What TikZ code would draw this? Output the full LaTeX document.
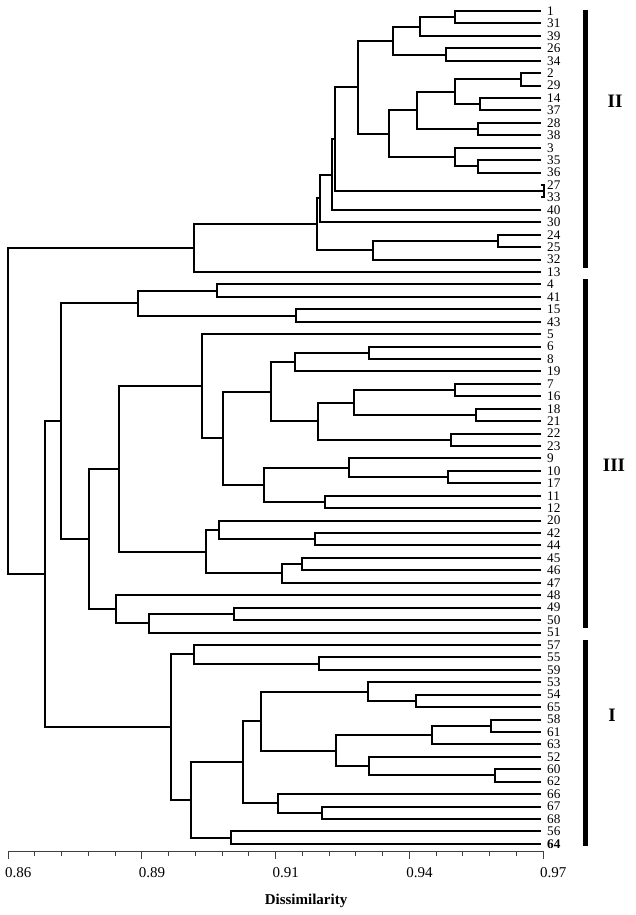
\documentclass[tikz,border=0pt]{standalone}
\usepackage{fontspec}
\setmainfont{Liberation Serif}
\usetikzlibrary{calc}
\tikzset{
  br/.style={line width=2pt, line join=miter},
  leaflab/.style={anchor=west, inner sep=0pt, xshift=6.5pt, font=\fontsize{13.2}{14}\selectfont},
  grp/.style={font=\bfseries\fontsize{19}{20}\selectfont, inner sep=0pt},
  ax/.style={line width=1pt, black!75},
  axlab/.style={anchor=west, inner sep=0pt, font=\fontsize{15}{16}\selectfont},
  bar/.style={fill=black}
}
\newcommand\mrg[4]{%
  \path let \p1=(#3), \p2=(#4) in coordinate (#1) at (#2pt,{0.5*(\y1+\y2)});
  \draw[br] (#3) -| (#1) |- (#4);}
\begin{document}
\begin{tikzpicture}[x=1pt,y=-1pt]
\useasboundingbox (0,0) rectangle (636,915);
% leaves
\foreach \lab [count=\i from 0] in {1,31,39,26,34,2,29,14,37,28,38,3,35,36,27,33,40,30,24,25,32,13,4,41,15,43,5,6,8,19,7,16,18,21,22,23,9,10,17,11,12,20,42,44,45,46,47,48,49,50,51,57,55,59,53,54,65,58,61,63,52,60,62,66,67,68,56}{
  \coordinate (L\lab) at (540.5,{11+12.43*\i});
  \node[leaflab] (T\lab) at (L\lab) {\lab};
}
\coordinate (L64) at (540.5,{11+12.43*67});
\node[leaflab] (T64) at (L64) {\bfseries 64};
% cluster II
\mrg{a1}{455}{L1}{L31}
\mrg{a2}{420}{a1}{L39}
\mrg{a3}{445.7}{L26}{L34}
\mrg{nA}{392.7}{a2}{a3}
\mrg{b1}{520.7}{L2}{L29}
\mrg{b2}{480}{L14}{L37}
\mrg{b3}{455.3}{b1}{b2}
\mrg{b4}{478.3}{L28}{L38}
\mrg{b5}{416.7}{b3}{b4}
\mrg{b6}{478.3}{L35}{L36}
\mrg{b7}{455}{L3}{b6}
\mrg{nB}{389.3}{b5}{b7}
\mrg{nAB}{358.3}{nA}{nB}
\mrg{c1}{543.5}{L27}{L33}
\mrg{c2}{335.3}{nAB}{c1}
\mrg{c3}{331.7}{c2}{L40}
\mrg{c4}{320.3}{c3}{L30}
\mrg{d1}{497.7}{L24}{L25}
\mrg{d2}{372.7}{d1}{L32}
\mrg{nII}{317.3}{c4}{d2}
\mrg{nIIx}{194}{nII}{L13}
% cluster III
\mrg{e1}{217.3}{L4}{L41}
\mrg{e2}{295.7}{L15}{L43}
\mrg{e3}{138.3}{e1}{e2}
\mrg{f1}{369}{L6}{L8}
\mrg{f2}{295}{f1}{L19}
\mrg{f3}{455}{L7}{L16}
\mrg{f4}{475.7}{L18}{L21}
\mrg{f5}{354}{f3}{f4}
\mrg{f6}{450.7}{L22}{L23}
\mrg{f7}{317.7}{f5}{f6}
\mrg{f8}{270.7}{f2}{f7}
\mrg{g1}{447.7}{L10}{L17}
\mrg{g2}{349.3}{L9}{g1}
\mrg{g3}{325}{L11}{L12}
\mrg{g4}{264}{g2}{g3}
\mrg{g5}{223.3}{f8}{g4}
\mrg{g6}{202.3}{L5}{g5}
\mrg{h1}{315}{L42}{L44}
\mrg{h2}{219}{L20}{h1}
\mrg{h3}{302.3}{L45}{L46}
\mrg{h4}{282}{h3}{L47}
\mrg{h5}{206.3}{h2}{h4}
\mrg{h6}{119.3}{g6}{h5}
\mrg{i1}{234}{L49}{L50}
\mrg{i2}{149}{i1}{L51}
\mrg{i3}{116.3}{L48}{i2}
\mrg{i4}{89.3}{h6}{i3}
\mrg{nIII}{61}{e3}{i4}
% cluster I
\mrg{j1}{318.7}{L55}{L59}
\mrg{j2}{193.7}{L57}{j1}
\mrg{k1}{415.7}{L54}{L65}
\mrg{k2}{368}{L53}{k1}
\mrg{k3}{491}{L58}{L61}
\mrg{k4}{432.3}{k3}{L63}
\mrg{k5}{495}{L60}{L62}
\mrg{k6}{369.3}{L52}{k5}
\mrg{k7}{335.7}{k4}{k6}
\mrg{k8}{261}{k2}{k7}
\mrg{m1}{321.7}{L67}{L68}
\mrg{m2}{277.7}{L66}{m1}
\mrg{m3}{243.3}{k8}{m2}
\mrg{m4}{231}{L56}{L64}
\mrg{m5}{191}{m3}{m4}
\mrg{nI}{171}{j2}{m5}
\mrg{nLow}{45}{nIII}{nI}
\mrg{nRoot}{7.5}{nIIx}{nLow}
% group bars and labels
\fill[bar] (583.3,10) rectangle (587.8,267.5);
\fill[bar] (583.3,279) rectangle (587.8,628);
\fill[bar] (583.3,640) rectangle (587.8,846);
\node[grp] (gII) at (615,101) {II};
\node[grp] (gIII) at (614,465) {III};
\node[grp] (gI) at (612,715) {I};
% axis
\draw[ax] (8,851) -- (543,851);
\foreach \k in {0,...,20}{
  \draw[ax] ({8+26.75*\k},851) -- ++(0,4.5);
}
\foreach \k in {0,5,10,15,20}{
  \draw[ax] ({8+26.75*\k},851) -- ++(0,7.5);
}
\foreach \lab [count=\k from 0] in {0.86,0.89,0.91,0.94,0.97}{
  \node[axlab] (ax\k) at ({5+133.75*\k},873) {\lab};
}
\node[font=\bfseries\fontsize{15}{16}\selectfont, inner sep=0pt] (xlab) at (306,901) {Dissimilarity};
\end{tikzpicture}
\end{document}
